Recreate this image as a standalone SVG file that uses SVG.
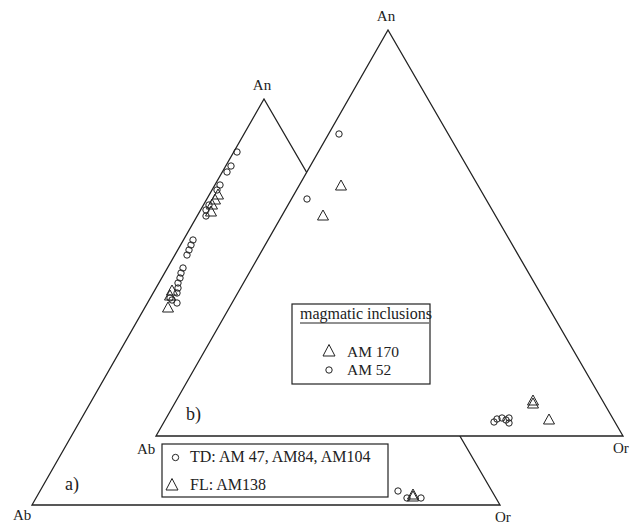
<svg xmlns="http://www.w3.org/2000/svg" xmlns:xlink="http://www.w3.org/1999/xlink" width="638" height="524" viewBox="0 0 638 524">
<style>
.ax{fill:#fff;stroke:#222;stroke-width:1.3;stroke-linejoin:miter}
.box{fill:#fff;stroke:#222;stroke-width:1.2}
.m{fill:none;stroke:#222;stroke-width:1}
.lbl{font-family:"Liberation Serif","Times New Roman",serif;font-size:15px;fill:#222}
.big{font-family:"Liberation Serif","Times New Roman",serif;font-size:18px;fill:#222}
.leg{font-family:"Liberation Serif","Times New Roman",serif;font-size:16px;fill:#222}
</style>
<defs>
<path id="tri" d="M0,-6 L-5.5,4 L5.5,4 Z"/>
<circle id="cir" r="3.2"/>
<path id="ltri" d="M0,-6.5 L-6,5 L6,5 Z"/>
</defs>
<rect width="638" height="524" fill="#fff"/>

<g id="diagram-a">
<polygon class="ax" points="32,505 500,505 264,99"/>
<text class="lbl" x="262" y="90" text-anchor="middle">An</text>
<text class="lbl" x="13" y="520">Ab</text>
<text class="lbl" x="495" y="522">Or</text>
<text class="big" x="65" y="490">a)</text>
</g>

<g id="diagram-b">
<polygon class="ax" points="156,436 623,436 388,30"/>
<text class="lbl" x="386" y="21" text-anchor="middle">An</text>
<text class="lbl" x="137" y="454">Ab</text>
<text class="lbl" x="613" y="453">Or</text>
<text class="big" x="186" y="420">b)</text>
</g>

<g id="points-a" class="m">
<use href="#cir" x="237" y="152"/>
<use href="#cir" x="231" y="166"/>
<use href="#cir" x="227" y="172"/>
<use href="#cir" x="220" y="185"/>
<use href="#cir" x="217" y="190"/>
<use href="#cir" x="209" y="205"/>
<use href="#cir" x="206" y="210"/>
<use href="#cir" x="206" y="216"/>
<use href="#tri" x="218" y="195"/>
<use href="#tri" x="215" y="200"/>
<use href="#tri" x="212" y="205"/>
<use href="#tri" x="211" y="212"/>
<use href="#cir" x="193" y="240"/>
<use href="#cir" x="191" y="245"/>
<use href="#cir" x="189" y="250"/>
<use href="#cir" x="187" y="255"/>
<use href="#cir" x="183" y="268"/>
<use href="#cir" x="181" y="273"/>
<use href="#cir" x="180" y="278"/>
<use href="#cir" x="178" y="283"/>
<use href="#cir" x="178" y="288"/>
<use href="#cir" x="177" y="293"/>
<use href="#cir" x="170" y="298"/>
<use href="#cir" x="172" y="300"/>
<use href="#cir" x="177" y="303"/>
<use href="#tri" x="172" y="291"/>
<use href="#tri" x="170" y="296"/>
<use href="#tri" x="168" y="308"/>
<use href="#cir" x="398" y="491"/>
<use href="#cir" x="407" y="498"/>
<use href="#cir" x="421" y="498"/>
<use href="#tri" x="413" y="495"/>
<use href="#tri" x="413" y="497"/>
</g>

<g id="points-b" class="m">
<use href="#cir" x="339" y="134"/>
<use href="#tri" x="341" y="186"/>
<use href="#cir" x="307" y="199"/>
<use href="#tri" x="323" y="216"/>
<use href="#cir" x="494" y="422"/>
<use href="#cir" x="497" y="419"/>
<use href="#cir" x="502" y="418"/>
<use href="#cir" x="506" y="420"/>
<use href="#cir" x="509" y="418"/>
<use href="#cir" x="509" y="423"/>
<use href="#tri" x="533" y="401"/>
<use href="#tri" x="533" y="404"/>
<use href="#tri" x="549" y="420"/>
</g>

<g id="legend-a">
<rect class="box" x="162" y="444" width="226" height="53"/>
<use class="m" href="#cir" x="175.5" y="457.5"/>
<text class="leg" x="190" y="462">TD: AM 47, AM84, AM104</text>
<use class="m" href="#ltri" x="172" y="485"/>
<text class="leg" x="190" y="490">FL: AM138</text>
</g>

<g id="legend-b">
<rect class="box" x="292" y="304" width="138" height="80"/>
<text class="leg" x="300" y="319">magmatic inclusions</text>
<line class="m" x1="300" y1="323" x2="429" y2="323"/>
<use class="m" href="#ltri" x="329" y="351"/>
<text class="leg" x="347" y="357" style="font-size:15.5px">AM 170</text>
<use class="m" href="#cir" x="329" y="370"/>
<text class="leg" x="347" y="375" style="font-size:15.5px">AM 52</text>
</g>
</svg>
